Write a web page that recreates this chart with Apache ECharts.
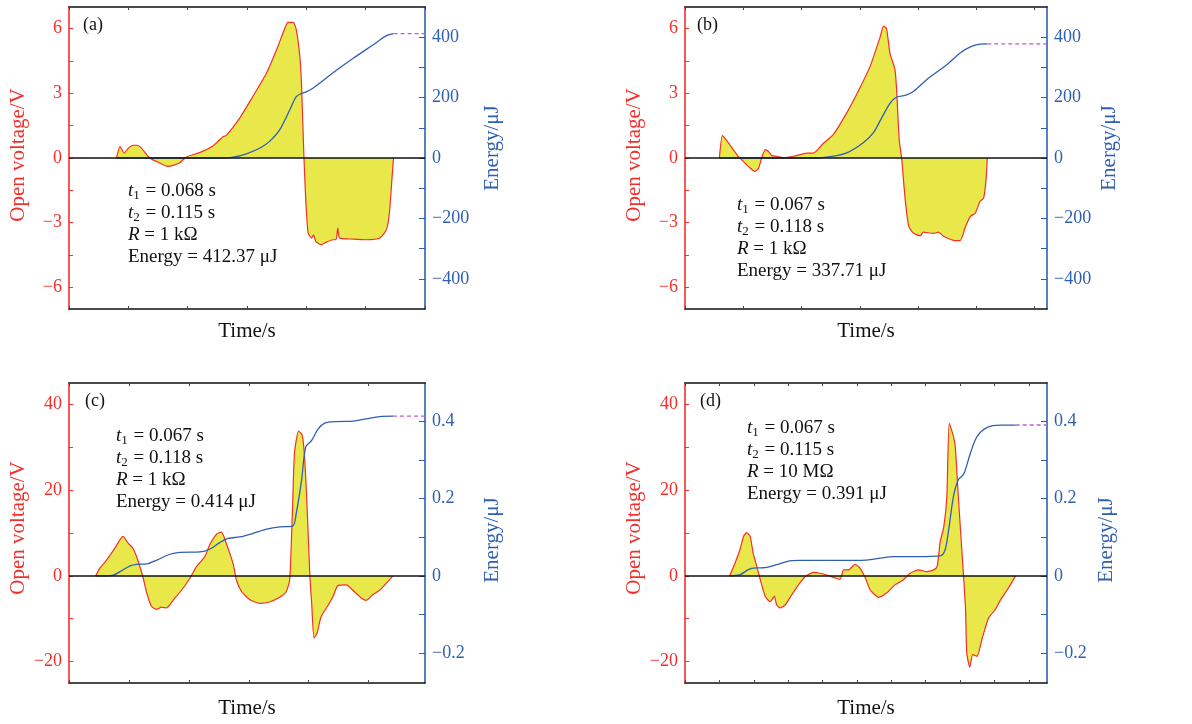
<!DOCTYPE html>
<html><head><meta charset="utf-8">
<script src="https://cdn.jsdelivr.net/npm/echarts@6/dist/echarts.min.js"></script>
<style>html,body{margin:0;padding:0;background:#fff}#c{width:1192px;height:724px}</style>
</head><body><div id="c"></div>
<script>
// ---- Data (time in normalized units across the plot width 0..6) ----
const tVa = [0.80,0.86,0.93,1.00,1.08,1.15,1.22,1.36,1.53,1.67,1.86,1.98,2.21,2.43,2.60,2.65,2.88,3.10,3.33,3.50,3.64,3.69,3.78,3.83,3.89,3.92,3.96,3.99,4.03,4.09,4.12,4.16,4.25,4.34,4.45,4.50,4.53,4.56,4.79,5.01,5.24,5.35,5.40,5.45,5.47];
const vVa = [0,0.53,0.23,0.46,0.59,0.59,0.46,0,-0.23,-0.39,-0.23,0.05,0.26,0.57,1.0,1.04,1.86,2.86,3.94,5.03,6.03,6.29,6.29,5.95,4.72,3.32,0,-1.93,-3.48,-3.71,-3.56,-3.87,-4.02,-3.9,-3.79,-3.79,-3.25,-3.71,-3.76,-3.79,-3.71,-3.32,-2.55,-0.7,0];
const tEa = [0.80,2.50,2.77,2.99,3.22,3.38,3.55,3.72,3.83,3.92,4.00,4.11,4.45,4.79,5.12,5.35,5.47];
const eEa = [0,0,3,14,33,55,93,159,203,214,219,231,282,330,374,405,412];

const tVb = [0.57,0.62,0.68,0.80,0.88,0.94,1.05,1.16,1.22,1.27,1.33,1.38,1.44,1.52,1.63,1.80,2.02,2.13,2.29,2.46,2.68,2.90,3.07,3.24,3.29,3.34,3.40,3.48,3.51,3.55,3.59,3.65,3.71,3.79,3.90,3.95,4.12,4.20,4.29,4.48,4.56,4.65,4.73,4.81,4.89,4.95,4.99,5.01];
const vVb = [0,1.04,0.85,0.39,0.08,-0.08,-0.39,-0.62,-0.47,0,0.39,0.31,0.11,0.08,0.02,0.08,0.23,0.23,0.67,1.09,2.09,3.26,4.26,5.66,6.12,6.0,4.81,4.11,3.02,0.85,0,-1.94,-3.18,-3.49,-3.61,-3.44,-3.49,-3.44,-3.64,-3.83,-3.83,-3.18,-2.71,-2.56,-2.02,-1.86,-1.01,0];
const tEb = [0.57,2.20,2.46,2.68,2.95,3.12,3.26,3.40,3.51,3.65,3.79,4.01,4.34,4.56,4.73,4.89,5.01];
const eEb = [0,0,6,17,50,83,133,182,202,207,221,260,309,348,368,377,378];

const tVc = [0.45,0.52,0.63,0.77,0.91,1.00,1.08,1.17,1.25,1.31,1.39,1.48,1.56,1.64,1.76,1.90,2.04,2.15,2.29,2.37,2.49,2.57,2.65,2.77,2.82,2.91,3.05,3.22,3.38,3.55,3.66,3.72,3.77,3.80,3.87,3.93,3.97,4.01,4.06,4.09,4.13,4.18,4.25,4.37,4.45,4.53,4.67,4.81,4.93,5.01,5.12,5.24,5.35,5.46];
const vVc = [0,1.8,3.6,6.4,9.2,7.6,6.4,3.3,-0.5,-4.0,-7.1,-7.8,-7.3,-7.5,-5.6,-3.3,-0.5,2.2,4.5,7.2,9.8,10.2,7.6,2.6,-0.9,-3.7,-5.6,-6.4,-6.1,-5.0,-3.7,-0.9,16.9,28.6,33.8,32.9,27.8,16.9,-0.2,-6.4,-14.5,-13.4,-9.5,-6.8,-4.8,-2.3,-2.1,-3.7,-5.2,-5.7,-4.4,-3.3,-1.7,0];
const tEc = [0.45,0.62,0.75,0.86,1.03,1.14,1.31,1.48,1.70,1.87,2.21,2.37,2.54,2.68,2.88,3.10,3.33,3.55,3.77,3.83,3.92,3.99,4.09,4.20,4.31,4.51,4.79,5.01,5.24,5.46];
const eEc = [0,0,0.002,0.011,0.026,0.030,0.031,0.041,0.056,0.061,0.062,0.069,0.086,0.097,0.101,0.110,0.121,0.127,0.129,0.162,0.248,0.334,0.351,0.381,0.396,0.400,0.401,0.407,0.413,0.414];

const tVd = [0.74,0.83,0.91,0.97,1.02,1.08,1.13,1.19,1.24,1.33,1.41,1.48,1.52,1.58,1.66,1.77,1.88,1.99,2.13,2.24,2.35,2.49,2.57,2.63,2.71,2.82,2.90,2.99,3.07,3.21,3.35,3.48,3.62,3.73,3.87,4.01,4.12,4.18,4.23,4.29,4.34,4.38,4.45,4.48,4.53,4.61,4.65,4.67,4.72,4.77,4.84,4.92,5.03,5.14,5.23,5.34,5.48];
const vVd = [0,3.0,6.1,9.2,10.1,9.2,5.3,2.2,-0.5,-4.8,-6.0,-4.8,-6.8,-7.5,-6.8,-4.4,-2.1,-0.2,0.8,0.6,0.2,-0.5,-0.8,1.4,1.4,2.7,1.8,-0.5,-3.3,-5.0,-3.9,-2.1,-0.9,0.6,1.4,1.0,1.4,2.2,8.0,11.5,18.5,35.6,32.5,30.1,18.5,1.4,-7.9,-18.0,-21.3,-18.4,-18.8,-14.9,-9.9,-7.9,-5.6,-3.3,0];
const tEd = [0.74,0.91,1.05,1.13,1.30,1.52,1.74,1.91,2.46,3.01,3.24,3.46,3.84,4.23,4.31,4.37,4.45,4.53,4.62,4.73,4.84,5.01,5.23,5.48];
const eEd = [0,0.003,0.016,0.020,0.021,0.029,0.039,0.040,0.040,0.041,0.046,0.050,0.050,0.052,0.067,0.119,0.206,0.249,0.264,0.318,0.361,0.385,0.391,0.391];

// tick labels
const vTicksTop = [-6,-3,0,3,6];
const vMinorTop = [-6,-4.5,-3,-1.5,0,1.5,3,4.5,6];
const eTicksTop = [-400,-200,0,200,400];
const eMinorTop = [-400,-300,-200,-100,0,100,200,300,400];
const vTicksBot = [-20,0,20,40];
const vMinorBot = [-20,-10,0,10,20,30,40];
const eTicksBot = [-0.2,0,0.2,0.4];
const eMinorBot = [-0.2,-0.1,0,0.1,0.2,0.3,0.4];

const infoA = ['0.068','0.115','1 kΩ','412.37 μJ'];
const infoB = ['0.067','0.118','1 kΩ','337.71 μJ'];
const infoC = ['0.067','0.118','1 kΩ','0.414 μJ'];
const infoD = ['0.067','0.115','10 MΩ','0.391 μJ'];

// ---- Build ----
const FONT = '"Liberation Serif", "DejaVu Serif", serif';
const RED = '#f2302b', BLUE = '#2f5fb3', YEL = '#e8e84a', MAG = '#c05cc8';
const fmt = v => String(v).replace('-', '\u2212');

const panels = [
  {grid:{left:69,top:7,width:356,height:302}, tV:tVa,vV:vVa,tE:tEa,eE:eEa, vr:[-7,7], er:[-500,500], vT:vTicksTop,vM:vMinorTop,eT:eTicksTop,eM:eMinorTop, xTick:1, lg:40, rg:57, lp:[0,0,0,6], rp:[0,0,0,20], tg:12, label:'(a)', lab:[83,16], info:infoA, ip:[128,180]},
  {grid:{left:685,top:7,width:362,height:302}, tV:tVb,vV:vVb,tE:tEb,eE:eEb, vr:[-7,7], er:[-500,500], vT:vTicksTop,vM:vMinorTop,eT:eTicksTop,eM:eMinorTop, xTick:0.966, lg:40, rg:52, lp:[0,0,0,6], rp:[0,0,0,20], tg:12, label:'(b)', lab:[697,16], info:infoB, ip:[737,194]},
  {grid:{left:69,top:383,width:356,height:300}, tV:tVc,vV:vVc,tE:tEc,eE:eEc, vr:[-25,45], er:[-0.27778,0.5], vT:vTicksBot,vM:vMinorBot,eT:eTicksBot,eM:eMinorBot, xTick:1.01, lg:40, rg:57, lp:[0,0,0,10], rp:[0,14,0,0], tg:15, label:'(c)', lab:[85,392], info:infoC, ip:[116,425]},
  {grid:{left:685,top:383,width:362,height:300}, tV:tVd,vV:vVd,tE:tEd,eE:eEd, vr:[-25,45], er:[-0.27778,0.5], vT:vTicksBot,vM:vMinorBot,eT:eTicksBot,eM:eMinorBot, xTick:0.57, lg:40, rg:49, lp:[0,0,0,10], rp:[0,14,0,0], tg:15, label:'(d)', lab:[700,392], info:infoD, ip:[747,417]}
];

const grid=[], xAxis=[], yAxis=[], series=[], graphic=[];
panels.forEach((p,i)=>{
  grid.push(p.grid);
  const xt=[]; for(let k=0;k*p.xTick<=6.001;k++) xt.push(+(k*p.xTick).toFixed(3));
  const xBase = {type:'value', gridIndex:i, min:0, max:6,
    axisLine:{show:true, onZero:false, lineStyle:{color:'#111', width:1.6}},
    axisTick:{show:true, inside:true, length:3, customValues:xt, lineStyle:{color:'#444', width:1}},
    axisLabel:{show:false}, splitLine:{show:false}};
  xAxis.push(Object.assign({}, xBase, {position:'bottom', name:'Time/s', nameLocation:'middle', nameGap:p.tg,
    nameTextStyle:{fontFamily:FONT, fontSize:21, color:'#111'}}));
  xAxis.push(Object.assign({}, xBase, {position:'top'}));
  yAxis.push({type:'value', gridIndex:i, position:'left', min:p.vr[0], max:p.vr[1],
    axisLine:{show:true, onZero:false, lineStyle:{color:RED, width:1.6}},
    axisTick:{show:true, inside:true, length:4, customValues:p.vM, lineStyle:{color:RED, width:1}},
    axisLabel:{show:true, customValues:p.vT, formatter:fmt, color:RED, fontFamily:FONT, fontSize:18, margin:7},
    splitLine:{show:false},
    name:'Open voltage/V', nameLocation:'middle', nameRotate:90, nameGap:p.lg,
    nameTextStyle:{fontFamily:FONT, fontSize:21, color:RED, padding:p.lp}});
  yAxis.push({type:'value', gridIndex:i, position:'right', min:p.er[0], max:p.er[1],
    axisLine:{show:true, onZero:false, lineStyle:{color:BLUE, width:1.6}},
    axisTick:{show:true, inside:true, length:6, customValues:p.eM, lineStyle:{color:BLUE, width:1}},
    axisLabel:{show:true, customValues:p.eT, formatter:fmt, color:BLUE, fontFamily:FONT, fontSize:18, margin:7},
    splitLine:{show:false},
    name:'Energy/μJ', nameLocation:'middle', nameRotate:90, nameGap:p.rg,
    nameTextStyle:{fontFamily:FONT, fontSize:21, color:BLUE, padding:p.rp}});
  series.push({type:'line', xAxisIndex:2*i, yAxisIndex:2*i, symbol:'none', silent:true, z:2,
    smooth:0.2,
    data:p.tV.map((t,k)=>[t,p.vV[k]]),
    lineStyle:{color:RED, width:1.2}, areaStyle:{color:YEL, opacity:1, origin:0},
    markLine:{silent:true, symbol:['none','none'], label:{show:false}, animation:false,
      lineStyle:{color:'#111', type:'solid', width:1.6}, data:[{yAxis:0}]}});
  series.push({type:'line', xAxisIndex:2*i, yAxisIndex:2*i+1, symbol:'none', silent:true, z:4,
    smooth:0.3,
    data:p.tE.map((t,k)=>[t,p.eE[k]]), lineStyle:{color:BLUE, width:1.3}});
  const last = p.tE.length-1;
  series.push({type:'line', xAxisIndex:2*i, yAxisIndex:2*i+1, symbol:'none', silent:true, z:4,
    data:[[p.tE[last], p.eE[last]],[6, p.eE[last]]], lineStyle:{color:MAG, width:1.4, type:[4,3]}});
  graphic.push({type:'text', left:p.lab[0], top:p.lab[1], style:{text:p.label, font:'18px '+FONT, fill:'#111'}});
  graphic.push({type:'text', left:p.ip[0], top:p.ip[1], style:{
    text:'{i|t}{s|1} = '+p.info[0]+' s\n{i|t}{s|2} = '+p.info[1]+' s\n{i|R} = '+p.info[2]+'\nEnergy = '+p.info[3],
    font:'19px '+FONT, fill:'#111', lineHeight:22,
    rich:{i:{fontStyle:'italic', fontFamily:FONT, fontSize:19, lineHeight:22},
          s:{fontFamily:FONT, fontSize:13, verticalAlign:'bottom', lineHeight:22, padding:[8,1,0,0]}}}});
});

const chart = echarts.init(document.getElementById('c'), null, {renderer:'canvas'});
chart.setOption({animation:false, backgroundColor:'#fff', grid, xAxis, yAxis, series, graphic});
</script></body></html>
